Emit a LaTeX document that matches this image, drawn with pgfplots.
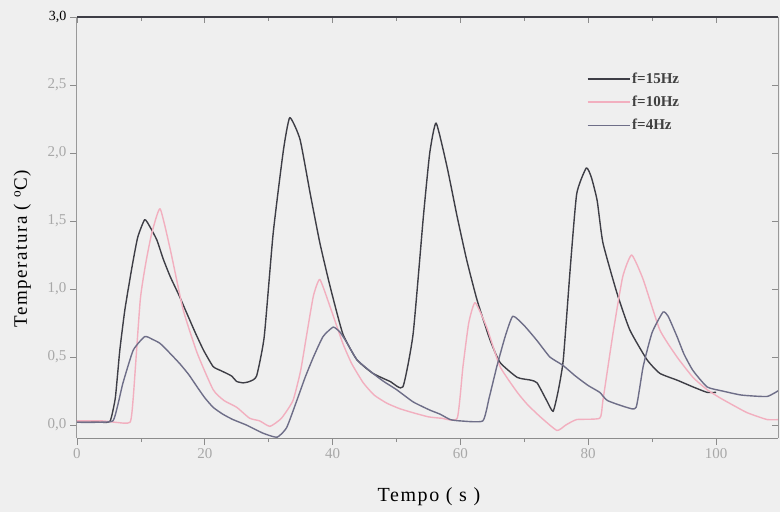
\documentclass[border=0pt]{standalone}
\usepackage{fontspec}
\setmainfont{Liberation Serif}
\usepackage{pgfplots}
\pgfplotsset{compat=1.18}
\definecolor{bgc}{HTML}{EFEFEF}
\definecolor{cdark}{HTML}{3E3E46}
\definecolor{cpink}{HTML}{F2AFBF}
\definecolor{cblue}{HTML}{6E6E88}
\definecolor{ctick}{HTML}{A8A8A8}
\begin{document}
\begin{tikzpicture}
\fill[bgc] (0,0) rectangle (780pt,512pt);
\useasboundingbox (0,0) rectangle (780pt,512pt);
\begin{axis}[
  at={(77pt,74pt)}, anchor=south west,
  scale only axis, width=701pt, height=421pt,
  xmin=0, xmax=109.7, ymin=-0.0956, ymax=3.0,
  axis x line*=bottom, axis y line*=left,
  x axis line style={draw=gray!90, line width=1pt},
  y axis line style={draw=gray!80, line width=1pt},
  tick align=outside,
  major tick length=7pt, minor tick length=4pt,
  tick style={gray!90, line width=0.8pt},
  xtick={0,20,40,60,80,100},
  xticklabels={0,20,40,60,80,100},
  minor x tick num=1,
  ytick={0,0.5,1,1.5,2,2.5,3},
  yticklabels={{0,0},{0,5},{1,0},{1,5},{2,0},{2,5},{\color{black}\fontsize{14}{14}\selectfont 3,0}},
  ticklabel style={text=ctick, font=\fontsize{15}{15}\selectfont},
  xlabel={\addfontfeatures{LetterSpace=8}Tempo ( s )},
  xlabel style={font=\fontsize{20}{20}\selectfont, text=black, at={(axis description cs:0.502,-0.14)}, anchor=center},
  ylabel={\addfontfeatures{LetterSpace=8}Temperatura ( $^{\mathrm{o}}$C)},
  ylabel style={font=\fontsize{19}{19}\selectfont, text=black, at={(axis description cs:-0.078,0.45)}, anchor=center, rotate=0},
  legend style={at={(0.727,0.872)}, anchor=north west, draw=none, fill=none,
    font=\fontsize{15}{15}\selectfont\bfseries, text=black!75, row sep=7pt,
    inner sep=0pt, cells={anchor=west}},
  legend image code/.code={\draw[#1] (0pt,0pt) -- (42pt,0pt);},
  every axis plot/.append style={line width=1.4pt, line join=round, smooth, tension=0.3},
]
\addplot[cdark] coordinates {
(0,0.03) (2,0.03) (4,0.02) (5.2,0.03) (6,0.2) (6.7,0.55) (7.5,0.85) (8.6,1.16) (9.5,1.38) (10.6,1.51)
(11.5,1.45) (12.5,1.36) (13.5,1.22) (14.6,1.09) (16,0.95) (17.2,0.82) (18.5,0.68) (19.8,0.55) (21.3,0.43)
(22.5,0.40) (23.4,0.38) (24.2,0.36) (25,0.32) (26,0.31) (27,0.32) (28.1,0.36) (29.3,0.65) (30.7,1.41)
(32.3,2.02) (33.3,2.26) (34.9,2.10) (36.5,1.70) (38.0,1.34) (39.6,1.02) (41.6,0.67) (43.8,0.48) (46.3,0.38)
(49,0.32) (51,0.28) (52.6,0.67) (54.2,1.53) (55.2,2.0) (56.2,2.22) (57.9,1.90) (59.5,1.53) (61,1.21)
(62.6,0.92) (64.6,0.63) (66.2,0.46) (68.9,0.35) (71,0.33) (72,0.31) (73.5,0.18) (74.5,0.10) (75.3,0.25)
(76.1,0.48) (77.2,1.16) (78.2,1.70) (79.7,1.89) (80.5,1.82) (81.4,1.65) (82.3,1.34) (84.5,0.97) (86.5,0.70)
(89.2,0.48) (91.2,0.38) (93.9,0.33) (96.4,0.28) (98.6,0.24) (100,0.24)
};
\addlegendentry{f=15Hz}
\addplot[cpink] coordinates {
(0,0.03) (4,0.03) (6,0.02) (8.3,0.02) (8.8,0.2) (9.9,0.92) (10.8,1.2) (11.7,1.41) (13,1.59) (14.6,1.29)
(16.6,0.85) (18.8,0.53) (21.3,0.26) (23,0.18) (25,0.13) (27,0.05) (28.6,0.03) (30.2,-0.01) (32,0.05)
(33.8,0.18) (35,0.4) (36,0.68) (37,0.95) (38,1.07) (39.6,0.87) (41.6,0.60) (43,0.45) (44.8,0.31)
(46.5,0.22) (48.5,0.16) (50.5,0.12) (52.6,0.09) (55,0.06) (57,0.05) (59.5,0.05) (60.4,0.43) (61.3,0.75)
(62.3,0.90) (64.1,0.72) (66.2,0.43) (68.9,0.24) (70.5,0.15) (72.5,0.06) (75.1,-0.04) (76.5,0.0) (78.2,0.04)
(81.8,0.05) (82.3,0.18) (83.9,0.68) (85.4,1.09) (86.8,1.25) (88.6,1.07) (91.2,0.70) (93.9,0.50) (96.4,0.35)
(98.6,0.26) (100.6,0.20) (102.5,0.15) (104.9,0.09) (108,0.04) (110,0.04)
};
\addlegendentry{f=10Hz}
\addplot[cblue] coordinates {
(0,0.02) (3,0.02) (5.6,0.03) (6.4,0.15) (7.2,0.31) (8.8,0.55) (10.6,0.65) (11.8,0.63) (13,0.60) (14.5,0.53)
(16.1,0.45) (17.5,0.37) (18.8,0.28) (20,0.20) (21.3,0.13) (22.8,0.08) (24.4,0.04) (26.5,0.0) (29.1,-0.06)
(31.3,-0.09) (32.8,-0.02) (34.4,0.18) (35.7,0.35) (37,0.50) (38.5,0.65) (40.1,0.72) (41.2,0.68) (42.3,0.60)
(43.8,0.48) (46.3,0.38) (48,0.32) (50,0.26) (52.6,0.17) (55.2,0.11) (56.8,0.08) (58.4,0.04) (60,0.03)
(63.5,0.03) (64.5,0.2) (65.7,0.43) (67,0.65) (68.2,0.80) (70,0.73) (72,0.62) (74,0.50) (76,0.44) (78,0.36)
(80,0.29) (81.8,0.24) (83,0.18) (86,0.13) (87.5,0.13) (88.6,0.43) (90,0.68) (91.7,0.83) (92.5,0.80)
(93.9,0.65) (95,0.52) (96.4,0.40) (98.6,0.28) (101,0.25) (104,0.22) (108,0.21) (110,0.26)
};
\addlegendentry{f=4Hz}
\end{axis}
\begin{axis}[
  at={(77pt,74pt)}, anchor=south west,
  scale only axis, width=701pt, height=421pt,
  xmin=0, xmax=109.7, ymin=-0.0956, ymax=3.0,
  axis x line*=top, axis y line*=right,
  x axis line style={draw=cdark, line width=2pt},
  y axis line style={draw=gray!80, line width=1pt},
  tick align=inside,
  major tick length=6pt, minor tick length=4pt,
  tick style={gray!90, line width=0.8pt},
  xtick={0,20,40,60,80,100}, minor x tick num=1,
  ytick={0,0.5,1,1.5,2,2.5,3},
  xticklabels={}, yticklabels={},
]
\end{axis}
\end{tikzpicture}
\end{document}
